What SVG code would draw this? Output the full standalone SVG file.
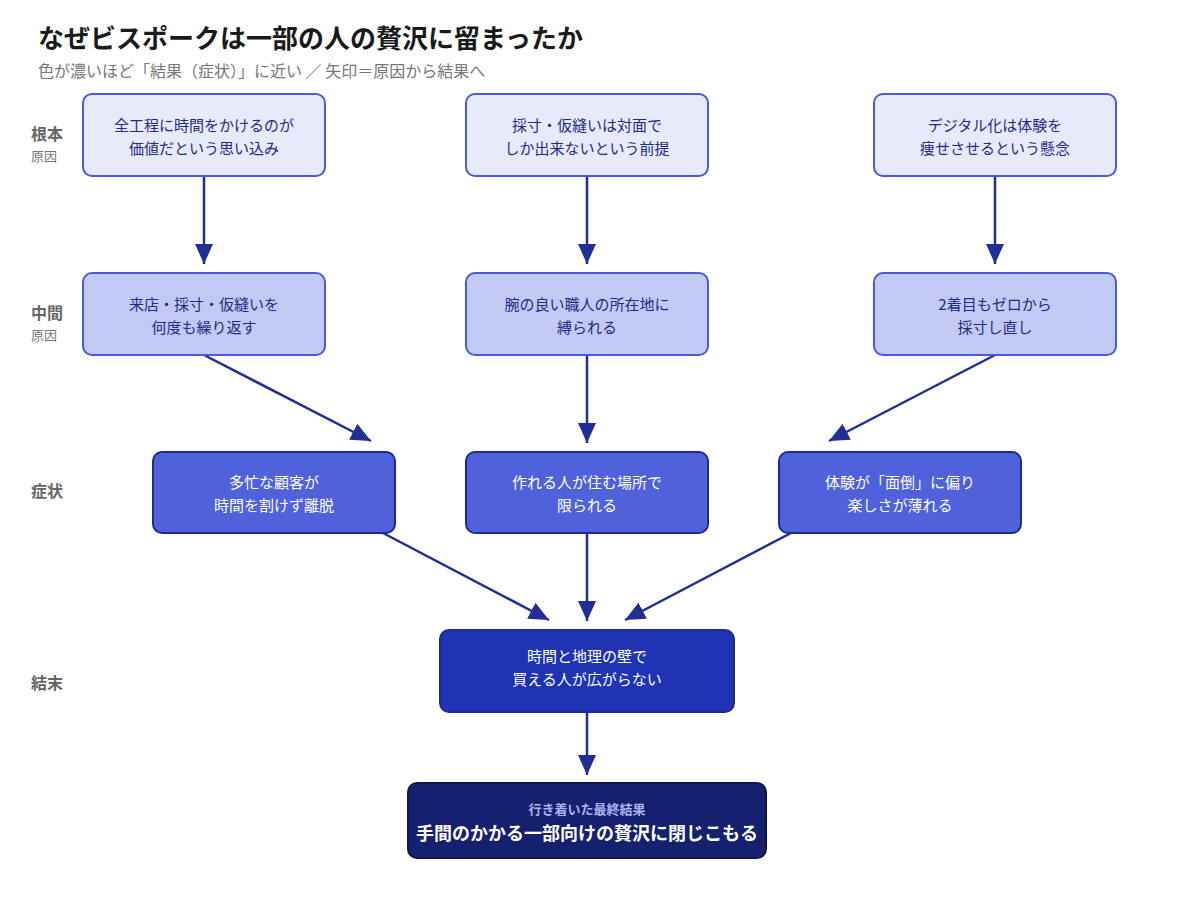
<svg xmlns="http://www.w3.org/2000/svg" width="1200" height="919" viewBox="0 0 1200 919">
<style>
text{font-family:"Noto Sans CJK JP","Noto Sans",sans-serif}
.t{font-size:15px;text-anchor:middle}
.d{fill:#1e2a8c}.w{fill:#fff}
.lb{font-size:16px;font-weight:bold;fill:#666}
.ls{font-size:13px;fill:#777}
.c{stroke:#1f2f96;stroke-width:2.5;fill:none;marker-end:url(#a)}
.r1{fill:#e6eafa;stroke:#4a5ad8;stroke-width:2}
.r2{fill:#c2c9f3;stroke:#4a5ad8;stroke-width:2}
.r3{fill:#4f62dc;stroke:#1e2a8c;stroke-width:2}
.r4{fill:#1f33b5;stroke:#1e2a8c;stroke-width:2}
.r5{fill:#15206e;stroke:#0d154f;stroke-width:2}
</style>
<defs><marker id="a" viewBox="0 0 10 10" refX="9" refY="5" markerWidth="7" markerHeight="7" markerUnits="userSpaceOnUse" orient="auto"><path d="M0,0L10,5L0,10z" fill="#1f2f96"/></marker>
<marker id="b" viewBox="0 0 10 10" refX="10" refY="5" markerWidth="20" markerHeight="18" markerUnits="userSpaceOnUse" orient="auto" preserveAspectRatio="none"><path d="M0,0L10,5L0,10z" fill="#1f2f96"/></marker></defs>
<rect width="1200" height="919" fill="#fff"/>
<text x="38" y="48" font-size="26" font-weight="bold" fill="#1a1a1a">なぜビスポークは一部の人の贅沢に留まったか</text>
<text x="38" y="77" font-size="16" fill="#777">色が濃いほど「結果（症状）」に近い ／ 矢印＝原因から結果へ</text>
<text x="31" y="140" class="lb">根本</text><text x="31" y="161" class="ls">原因</text>
<text x="31" y="319" class="lb">中間</text><text x="31" y="340" class="ls">原因</text>
<text x="31" y="497" class="lb">症状</text>
<text x="31" y="689" class="lb">結末</text>
<g id="connectors" style="--m:url(#b)">
<path class="c" style="marker-end:url(#b)" d="M204,176V264"/>
<path class="c" style="marker-end:url(#b)" d="M587,176V264"/>
<path class="c" style="marker-end:url(#b)" d="M995,176V264"/>
<path class="c" style="marker-end:url(#b)" d="M204,355L371,441"/>
<path class="c" style="marker-end:url(#b)" d="M587,355V443"/>
<path class="c" style="marker-end:url(#b)" d="M995,355L829,441"/>
<path class="c" style="marker-end:url(#b)" d="M383,533L549,620"/>
<path class="c" style="marker-end:url(#b)" d="M587,533V621"/>
<path class="c" style="marker-end:url(#b)" d="M791,533L625,620"/>
<path class="c" style="marker-end:url(#b)" d="M587,712V775"/>
</g>
<g id="n1"><rect class="r1" x="83" y="94" width="242" height="82" rx="9"/><text class="t d" x="204" y="131">全工程に時間をかけるのが</text><text class="t d" x="204" y="154">価値だという思い込み</text></g>
<g id="n2"><rect class="r1" x="466" y="94" width="242" height="82" rx="9"/><text class="t d" x="587" y="131">採寸・仮縫いは対面で</text><text class="t d" x="587" y="154">しか出来ないという前提</text></g>
<g id="n3"><rect class="r1" x="874" y="94" width="242" height="82" rx="9"/><text class="t d" x="995" y="131">デジタル化は体験を</text><text class="t d" x="995" y="154">痩せさせるという懸念</text></g>
<g id="n4"><rect class="r2" x="83" y="273" width="242" height="82" rx="9"/><text class="t d" x="204" y="310">来店・採寸・仮縫いを</text><text class="t d" x="204" y="333">何度も繰り返す</text></g>
<g id="n5"><rect class="r2" x="466" y="273" width="242" height="82" rx="9"/><text class="t d" x="587" y="310">腕の良い職人の所在地に</text><text class="t d" x="587" y="333">縛られる</text></g>
<g id="n6"><rect class="r2" x="874" y="273" width="242" height="82" rx="9"/><text class="t d" x="995" y="310">2着目もゼロから</text><text class="t d" x="995" y="333">採寸し直し</text></g>
<g id="n7"><rect class="r3" x="153" y="452" width="242" height="81" rx="9"/><text class="t w" x="274" y="488">多忙な顧客が</text><text class="t w" x="274" y="511">時間を割けず離脱</text></g>
<g id="n8"><rect class="r3" x="466" y="452" width="242" height="81" rx="9"/><text class="t w" x="587" y="488">作れる人が住む場所で</text><text class="t w" x="587" y="511">限られる</text></g>
<g id="n9"><rect class="r3" x="779" y="452" width="242" height="81" rx="9"/><text class="t w" x="900" y="488">体験が「面倒」に偏り</text><text class="t w" x="900" y="511">楽しさが薄れる</text></g>
<g id="n10"><rect class="r4" x="440" y="630" width="294" height="82" rx="9"/><text class="t w" x="587" y="662">時間と地理の壁で</text><text class="t w" x="587" y="685">買える人が広がらない</text></g>
<g id="n11"><rect class="r5" x="408" y="783" width="358" height="75" rx="9"/><text x="587" y="814" font-size="13" font-weight="bold" fill="#aab4ee" text-anchor="middle">行き着いた最終結果</text><text x="587" y="840" font-size="18" font-weight="bold" fill="#fff" text-anchor="middle">手間のかかる一部向けの贅沢に閉じこもる</text></g>
</svg>
